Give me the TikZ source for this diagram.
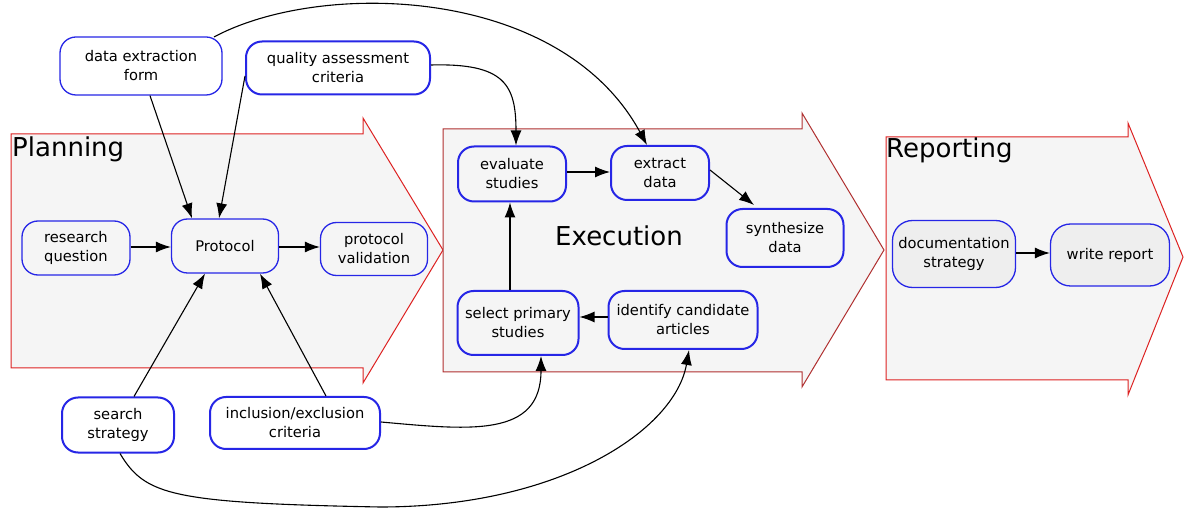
\documentclass[tikz,border=0pt]{standalone}
\usepackage{fontspec}
\setmainfont{DejaVu Sans}
\usetikzlibrary{arrows.meta}
\definecolor{phasefill}{HTML}{F5F5F5}
\definecolor{phaseline}{HTML}{DD2222}
\definecolor{phasedark}{HTML}{B03030}
\definecolor{boxline}{HTML}{2626E6}
\definecolor{repfill}{HTML}{EEEEEE}
\tikzset{
  phase/.style={fill=phasefill, draw=phaseline, line width=1pt, line join=miter},
  phasetitle/.style={font=\fontsize{26}{30}\selectfont, inner sep=0pt},
  stepbox/.style={draw=boxline, line width=1.3pt, rounded corners=16pt, align=center,
    font=\fontsize{14.7}{19}\selectfont, inner sep=0pt, fill=phasefill},
  thick box/.style={line width=2pt},
  flow/.style={line width=1.1pt, -{Latex[length=15pt,width=11pt]}},
}
\begin{document}
\begin{tikzpicture}[x=1pt,y=-1pt]
\useasboundingbox (0,0) rectangle (1189,510);
\fill[white] (0,0) rectangle (1189,510);

% phase arrows
\draw[phase] (11,134) -- (363,134) -- (363,118) -- (443,250) -- (363,383) -- (363,368) -- (11,368) -- cycle;
\draw[phase, draw=phasedark] (443,129) -- (802,129) -- (802,113) -- (884,250) -- (802,387) -- (802,372) -- (443,372) -- cycle;
\draw[phase] (886,137) -- (1128,137) -- (1128,123) -- (1183,257) -- (1128,395) -- (1128,380) -- (886,380) -- cycle;

\node[phasetitle, anchor=base west] (tplan) at (12,157) {Planning};
\node[phasetitle, anchor=base] (texec) at (619,246) {Execution};
\node[phasetitle, anchor=base west] (trep) at (886,158) {Reporting};

% planning
\node[stepbox, minimum width=108pt, minimum height=54pt] (rq) at (76,248) {research\\question};
\node[stepbox, minimum width=107pt, minimum height=54pt] (prot) at (225,246) {Protocol};
\node[stepbox, minimum width=107pt, minimum height=53pt] (pval) at (374,249) {protocol\\validation};

% inputs
\node[stepbox, fill=white, minimum width=162pt, minimum height=58pt] (def) at (141,66) {data extraction\\form};
\node[stepbox, thick box, fill=white, minimum width=184pt, minimum height=53pt] (qac) at (338,68) {quality assessment\\criteria};
\node[stepbox, thick box, fill=white, minimum width=112pt, minimum height=55pt] (ss) at (118,425) {search\\strategy};
\node[stepbox, thick box, fill=white, minimum width=170pt, minimum height=52pt] (iec) at (295,423) {inclusion/exclusion\\criteria};

% execution
\node[stepbox, thick box, minimum width=108pt, minimum height=55pt] (eval) at (512,174) {evaluate\\studies};
\node[stepbox, thick box, minimum width=98pt, minimum height=54pt] (extr) at (660,173) {extract\\data};
\node[stepbox, thick box, minimum width=117pt, minimum height=58pt] (synth) at (785,238) {synthesize\\data};
\node[stepbox, thick box, minimum width=121pt, minimum height=64pt] (sel) at (518,323) {select primary\\studies};
\node[stepbox, thick box, minimum width=149pt, minimum height=58pt] (ident) at (683,320) {identify candidate\\articles};

% reporting
\node[stepbox, fill=repfill, minimum width=123pt, minimum height=67pt, rounded corners=20pt] (doc) at (954,254) {documentation\\strategy};
\node[stepbox, fill=repfill, minimum width=119pt, minimum height=62pt, rounded corners=20pt] (wr) at (1110,255) {write report};

% planning connectors
\draw[flow] (rq.east |- 0,247) -- (prot.west |- 0,247);
\draw[flow] (prot.east |- 0,247) -- (pval.west |- 0,247);
\draw[flow] (def.south -| 150,0) -- (prot.north -| 192,0);
\draw[flow] (qac.west |- 0,76) -- (prot.north -| 219,0);
\draw[flow] (ss.north -| 134,0) -- (prot.south -| 205,0);
\draw[flow] (iec.north -| 326,0) -- (prot.south -| 260,0);

% execution connectors
\draw[flow] (eval.east |- 0,172) -- (extr.west |- 0,172);
\draw[flow] (710,170) -- (754,205);
\draw[flow] (sel.north -| 510,0) -- (eval.south -| 510,0);
\draw[flow] (ident.west |- 0,317) -- (sel.east |- 0,317);

% long curved connectors
\draw[flow] (214,37) .. controls (320,-20) and (560,-15) .. (extr.north -| 647,0);
\draw[flow] (qac.east |- 0,65) .. controls (505,63) and (516,85) .. (eval.north -| 516,0);
\draw[flow] (iec.east |- 0,422) .. controls (470,430) and (541,438) .. (sel.south -| 541,0);
\coordinate (low) at (380,507);
\draw[flow] (ss.south -| 120,0) .. controls (145,495) and (170,503) .. (low)
  .. controls (560,507) and (675,430) .. (ident.south -| 689,0);

% reporting connector
\draw[flow] (doc.east |- 0,253) -- (wr.west |- 0,253);
\end{tikzpicture}
\end{document}
